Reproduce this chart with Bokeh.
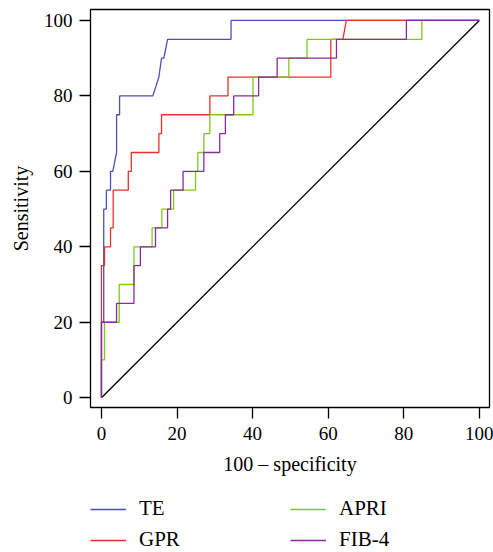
from bokeh.plotting import figure
from bokeh.layouts import column
from bokeh.models import Legend, LegendItem, Range1d, FixedTicker
from bokeh.embed import file_html
from bokeh.resources import INLINE

# ROC curves (x = 100 - specificity, y = sensitivity), in %
te_x = [0, 0, 0.6, 0.6, 1.3, 1.3, 2.4, 2.4, 3.0, 4.0, 4.0, 4.8, 4.8, 13.6, 15.2, 15.9, 16.5, 17.5, 34.3, 34.3, 100]
te_y = [0, 20, 20, 50, 50, 55, 55, 60, 60, 65, 75, 75, 80, 80, 85, 90, 90, 95, 95, 100, 100]

gpr_x = [0, 0, 0.8, 0.8, 2.4, 2.4, 3.1, 3.1, 7.1, 7.1, 7.9, 7.9, 15.2, 15.2, 15.9, 15.9,
         28.7, 28.7, 33.5, 33.5, 60.7, 60.7, 63.9, 64.8, 100]
gpr_y = [0, 35, 35, 40, 40, 45, 45, 55, 55, 60, 60, 65, 65, 70, 70, 75,
         75, 80, 80, 85, 85, 95, 95, 100, 100]

apri_x = [0, 0, 0.8, 0.8, 4.7, 4.7, 8.6, 8.6, 13.4, 13.4, 16.0, 16.0, 19.1, 19.1, 24.9, 24.9,
          25.5, 25.5, 27.1, 27.1, 28.7, 28.7, 40.1, 40.1, 49.6, 49.6, 54.4, 54.4, 84.8, 84.8, 100]
apri_y = [0, 10, 10, 20, 20, 30, 30, 40, 40, 45, 45, 50, 50, 55, 55, 60,
          60, 65, 65, 70, 70, 75, 75, 85, 85, 90, 90, 95, 95, 100, 100]

fib4_x = [0, 0, 4.0, 4.0, 8.6, 8.6, 10.3, 10.3, 14.3, 14.3, 17.5, 17.5, 18.3, 18.3, 21.6, 21.6,
          27.1, 27.1, 31.3, 31.3, 32.8, 32.8, 35.0, 35.0, 41.6, 41.6, 46.5, 46.5, 62.2, 62.2,
          80.7, 80.7, 100]
fib4_y = [0, 20, 20, 25, 25, 35, 35, 40, 40, 45, 45, 50, 50, 55, 55, 60,
          60, 65, 65, 70, 70, 75, 75, 80, 80, 85, 85, 90, 90, 95,
          95, 100, 100]

ref_x = [0, 100]
ref_y = [0, 100]

ticks = [0, 20, 40, 60, 80, 100]
names = ["TE", "GPR", "APRI", "FIB-4"]
colors = ["#4A50B6", "#E8302A", "#7DC914", "#8B2A9E"]
series_x = [te_x, gpr_x, apri_x, fib4_x]
series_y = [te_y, gpr_y, apri_y, fib4_y]

FONT = "Liberation Serif"

# ---- main ROC plot ----
p = figure(width=493, height=480, output_backend="svg", toolbar_location=None,
           x_range=Range1d(-2.9, 102.7), y_range=Range1d(-2.6, 102.9),
           min_border_left=90, min_border_top=9, min_border_right=4, min_border_bottom=73)

p.xgrid.visible = False
p.ygrid.visible = False
p.outline_line_color = "black"
p.outline_line_width = 1.3
p.background_fill_color = "white"
p.border_fill_color = "white"

for ax in (p.xaxis[0], p.yaxis[0]):
    ax.ticker = FixedTicker(ticks=ticks)
    ax.axis_line_color = None
    ax.major_tick_in = 0
    ax.major_tick_out = 11
    ax.major_tick_line_color = "black"
    ax.major_tick_line_width = 1.3
    ax.minor_tick_line_color = None
    ax.major_label_text_font = FONT
    ax.major_label_text_font_size = "19px"
    ax.major_label_text_color = "black"
    ax.axis_label_text_font = FONT
    ax.axis_label_text_font_size = "20px"
    ax.axis_label_text_font_style = "normal"
    ax.axis_label_text_color = "black"

p.xaxis.axis_label = "100 \u2013 specificity"
p.yaxis.axis_label = "Sensitivity"
p.yaxis.major_label_orientation = "horizontal"
p.xaxis.major_label_standoff = 8
p.yaxis.major_label_standoff = 7
p.xaxis.axis_label_standoff = 10
p.yaxis.axis_label_standoff = 9

p.line(ref_x, ref_y, line_color="black", line_width=1.3)
for sx, sy, c in zip(series_x, series_y, colors):
    p.line(sx, sy, line_color=c, line_width=1.3)

# ---- legend strip below (lines drawn off-view, only their legend shows) ----
q = figure(width=493, height=72, output_backend="svg", toolbar_location=None,
           x_axis_type=None, y_axis_type=None,
           x_range=Range1d(1000, 1001), y_range=Range1d(1000, 1001),
           min_border_left=0, min_border_right=0, min_border_top=0, min_border_bottom=0)
q.xgrid.visible = False
q.ygrid.visible = False
q.outline_line_color = None
q.background_fill_color = "white"
q.border_fill_color = "white"

items = []
for sx, sy, c, n in zip(series_x, series_y, colors, names):
    r = q.line(sx, sy, line_color=c, line_width=1.3)
    items.append(LegendItem(label=n, renderers=[r]))

legend = Legend(items=items, ncols=2, orientation="vertical",
                location=(0, 0), margin=0, padding=0,
                glyph_width=36, glyph_height=24, label_width=145, label_height=24,
                label_standoff=13, spacing=6,
                border_line_color=None, background_fill_alpha=0,
                label_text_font=FONT, label_text_font_size="21px",
                label_text_color="black")
q.add_layout(legend, "center")

open("out.html", "w").write(file_html(column(p, q, spacing=0), INLINE))
